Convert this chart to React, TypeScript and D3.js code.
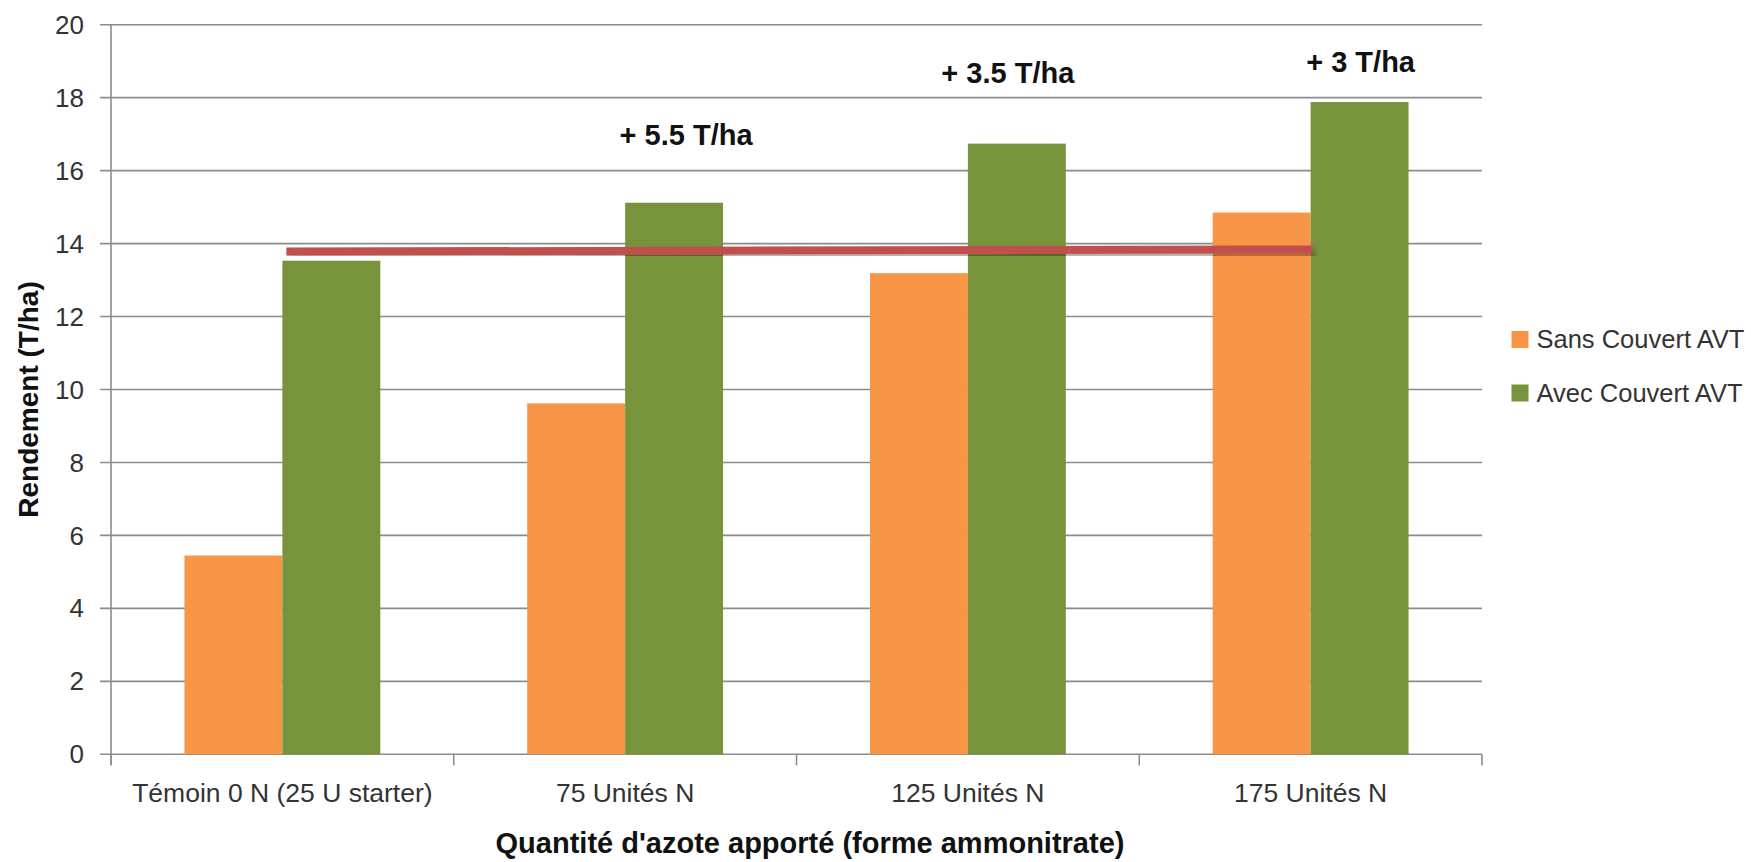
import React from "react";
import * as d3 from "d3";

const categories = ["Témoin 0 N (25 U starter)", "75 Unités N", "125 Unités N", "175 Unités N"];
const seriesNames = ["Sans Couvert AVT", "Avec Couvert AVT"];
const sansCouvert = [5.45, 9.62, 13.19, 14.85];
const avecCouvert = [13.53, 15.12, 16.74, 17.88];
const yTicks = [0, 2, 4, 6, 8, 10, 12, 14, 16, 18, 20];
const annotationTexts = ["+ 5.5 T/ha", "+ 3.5 T/ha", "+ 3 T/ha"];
const annotationCategories = ["75 Unités N", "125 Unités N", "175 Unités N"];
const annotationValues = [16.7, 18.39, 18.71];
const refLineStart = { category: "Témoin 0 N (25 U starter)", value: 13.78 };
const refLineEnd = { category: "175 Unités N", value: 13.84 };

const colors = ["#F79646", "#77933C"];
const FONT = "'Liberation Sans', Arial, sans-serif";

export default function App() {
  const W = 1751, H = 862;
  const left = 111, right = 1482, top = 24.7, bottom = 754.3;
  const x0 = d3.scaleBand<string>().domain(categories).range([left, right]).padding(0);
  const x1 = d3.scaleBand<string>().domain(seriesNames).range([0, x0.bandwidth()]).paddingInner(0).paddingOuter(0.75);
  const y = d3.scaleLinear().domain([0, 20]).range([bottom, top]);
  const values = [sansCouvert, avecCouvert];
  const annDx = [12, -9, 1];
  const line = d3.line<[number, number]>().x(d => d[0]).y(d => d[1]);
  const lx0 = (x0(refLineStart.category) ?? 0) + x0.bandwidth() / 2 + 4;
  const lx1 = (x0(refLineEnd.category) ?? 0) + x0.bandwidth() / 2 + 2;
  const catBoundaries = d3.range(categories.length + 1).map(i => left + i * x0.step());

  return (
    <svg width={W} height={H} style={{ position: "absolute", left: 0, top: 0, background: "#fff" }} fontFamily={FONT}>
      <defs>
        <filter id="sh" x="-5%" y="-200%" width="110%" height="500%">
          <feDropShadow dx="2" dy="4" stdDeviation="2.5" floodColor="#000" floodOpacity="0.35" />
        </filter>
      </defs>
      {/* gridlines */}
      {yTicks.map(t => (
        <line key={"g" + t} x1={left - 11} x2={right} y1={y(t)} y2={y(t)} stroke="#8C8C8C" strokeWidth={1.6} />
      ))}
      {/* y axis */}
      <line x1={left} x2={left} y1={top} y2={bottom + 11} stroke="#8C8C8C" strokeWidth={1.6} />
      {catBoundaries.map((bx, i) => (
        <line key={"ct" + i} x1={bx} x2={bx} y1={bottom} y2={bottom + 11} stroke="#8C8C8C" strokeWidth={1.6} />
      ))}
      {yTicks.map(t => (
        <text key={"yt" + t} x={84} y={y(t)} dy="0.35em" textAnchor="end" fontSize={26} fill="#333">{t}</text>
      ))}
      {/* bars */}
      {categories.map((c, ci) => (
        <g key={c} transform={`translate(${x0(c)},0)`}>
          {seriesNames.map((s, si) => (
            <rect key={s} x={x1(s)} width={x1.bandwidth()} y={y(values[si][ci])} height={y(0) - y(values[si][ci])} fill={colors[si]} />
          ))}
        </g>
      ))}
      {/* red reference line */}
      <path d={line([[lx0, y(refLineStart.value)], [lx1, y(refLineEnd.value)]]) ?? ""} stroke="#C0504D" strokeWidth={8} fill="none" filter="url(#sh)" />
      {/* category labels */}
      {categories.map(c => (
        <text key={"cl" + c} x={(x0(c) ?? 0) + x0.bandwidth() / 2} y={802} textAnchor="middle" fontSize={26.5} fill="#333">{c}</text>
      ))}
      {/* annotations */}
      {annotationTexts.map((t, i) => (
        <text key={t} x={(x0(annotationCategories[i]) ?? 0) + (x1(seriesNames[1]) ?? 0) + x1.bandwidth() / 2 + annDx[i]} y={y(annotationValues[i])} textAnchor="middle" fontSize={29} fontWeight="bold" fill="#111">{t}</text>
      ))}
      {/* axis titles */}
      <text x={810} y={853} textAnchor="middle" fontSize={29} fontWeight="bold" fill="#111">Quantité d'azote apporté (forme ammonitrate)</text>
      <text transform={`translate(38,${(top + bottom) / 2 + 10}) rotate(-90)`} textAnchor="middle" fontSize={28} fontWeight="bold" fill="#111">Rendement (T/ha)</text>
      {/* legend */}
      {seriesNames.map((s, i) => (
        <g key={"lg" + s} transform={`translate(1511.5,${339.5 + i * 53.5})`}>
          <rect x={0} y={-8.5} width={17} height={17} fill={colors[i]} />
          <text x={25} y={0} dy="0.35em" fontSize={25.5} fill="#333">{s}</text>
        </g>
      ))}
    </svg>
  );
}
